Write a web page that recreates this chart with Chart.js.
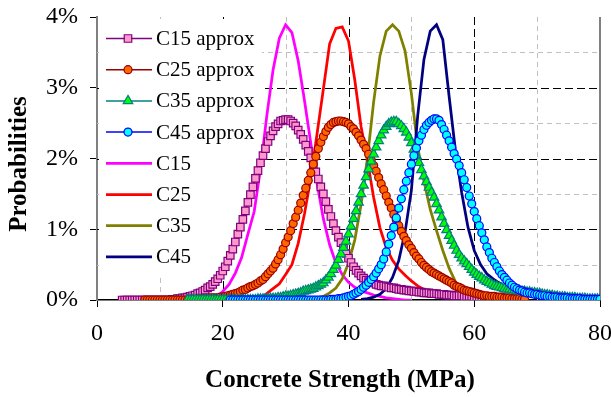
<!DOCTYPE html>
<html>
<head>
<meta charset="utf-8">
<title>Concrete strength probability distributions</title>
<script src="https://cdn.jsdelivr.net/npm/chart.js@4.4.1/dist/chart.umd.min.js"></script>
<style>
  html, body { margin: 0; padding: 0; background: #ffffff; }
  canvas { display: block; }
</style>
</head>
<body>
<canvas id="chart" width="611" height="397"></canvas>
<script>
// Strength grid (MPa) of the approximated distributions
const approxStrength = [
  4, 4.4, 4.8, 5.2, 5.6, 6, 6.4, 6.8, 7.2, 7.6,
  8, 8.4, 8.8, 9.2, 9.6, 10, 10.4, 10.8, 11.2, 11.6,
  12, 12.4, 12.8, 13.2, 13.6, 14, 14.4, 14.8, 15.2, 15.6,
  16, 16.4, 16.8, 17.2, 17.6, 18, 18.4, 18.8, 19.2, 19.6,
  20, 20.4, 20.8, 21.2, 21.6, 22, 22.4, 22.8, 23.2, 23.6,
  24, 24.4, 24.8, 25.2, 25.6, 26, 26.4, 26.8, 27.2, 27.6,
  28, 28.4, 28.8, 29.2, 29.6, 30, 30.4, 30.8, 31.2, 31.6,
  32, 32.4, 32.8, 33.2, 33.6, 34, 34.4, 34.8, 35.2, 35.6,
  36, 36.4, 36.8, 37.2, 37.6, 38, 38.4, 38.8, 39.2, 39.6,
  40, 40.4, 40.8, 41.2, 41.6, 42, 42.4, 42.8, 43.2, 43.6,
  44, 44.4, 44.8, 45.2, 45.6, 46, 46.4, 46.8, 47.2, 47.6,
  48, 48.4, 48.8, 49.2, 49.6, 50, 50.4, 50.8, 51.2, 51.6,
  52, 52.4, 52.8, 53.2, 53.6, 54, 54.4, 54.8, 55.2, 55.6,
  56, 56.4, 56.8, 57.2, 57.6, 58, 58.4, 58.8, 59.2, 59.6,
  60, 60.4, 60.8, 61.2, 61.6, 62, 62.4, 62.8, 63.2, 63.6,
  64, 64.4, 64.8, 65.2, 65.6, 66, 66.4, 66.8, 67.2, 67.6,
  68, 68.4, 68.8, 69.2, 69.6, 70, 70.4, 70.8, 71.2, 71.6,
  72, 72.4, 72.8, 73.2, 73.6, 74, 74.4, 74.8, 75.2, 75.6,
  76, 76.4, 76.8, 77.2, 77.6, 78, 78.4, 78.8, 79.2, 79.6,
  80];

// Approximated probabilities (%), each listed from its first strength on the grid
const c15ApproxFrom = 4;
const c15Approx = [
  0, 0, 0, 0, 0, 0, 0, 0, 0, 0,
  0, 0, 0, 0, 0, 0, 0, 0, 0, 0,
  0.01, 0.01, 0.02, 0.02, 0.03, 0.03, 0.04, 0.05, 0.06, 0.07,
  0.09, 0.10, 0.12, 0.14, 0.17, 0.19, 0.22, 0.26, 0.30, 0.35,
  0.41, 0.47, 0.55, 0.63, 0.72, 0.82, 0.93, 1.03, 1.14, 1.26,
  1.38, 1.49, 1.60, 1.72, 1.83, 1.94, 2.04, 2.14, 2.24, 2.32,
  2.39, 2.45, 2.49, 2.53, 2.54, 2.55, 2.55, 2.53, 2.50, 2.46,
  2.40, 2.34, 2.27, 2.19, 2.10, 2.01, 1.91, 1.81, 1.71, 1.60,
  1.50, 1.39, 1.28, 1.18, 1.08, 0.98, 0.89, 0.81, 0.73, 0.66,
  0.59, 0.53, 0.47, 0.42, 0.38, 0.34, 0.31, 0.28, 0.26, 0.25,
  0.24, 0.22, 0.21, 0.20, 0.20, 0.19, 0.18, 0.17, 0.17, 0.16,
  0.15, 0.15, 0.14, 0.14, 0.13, 0.13, 0.12, 0.12, 0.11, 0.11,
  0.10, 0.10, 0.10, 0.09, 0.09, 0.09, 0.08, 0.08, 0.08, 0.07,
  0.07, 0.07, 0.06, 0.06, 0.06, 0.06, 0.05, 0.05, 0.05, 0.05,
  0.04, 0.04, 0.04, 0.04, 0.03, 0.03];

const c25ApproxFrom = 7.6;
const c25Approx = [
  0, 0, 0, 0, 0, 0, 0, 0, 0, 0,
  0, 0, 0, 0, 0, 0, 0, 0,
  0.01, 0.01, 0.01, 0.01, 0.02, 0.02, 0.02, 0.02, 0.03, 0.03,
  0.03, 0.03, 0.04, 0.04, 0.05, 0.06, 0.07, 0.08, 0.09, 0.10,
  0.12, 0.14, 0.15, 0.17, 0.19, 0.20, 0.22, 0.24, 0.27, 0.29,
  0.33, 0.37, 0.41, 0.45, 0.51, 0.57, 0.64, 0.72, 0.81, 0.89,
  0.98, 1.08, 1.17, 1.27, 1.37, 1.48, 1.58, 1.69, 1.80, 1.92,
  2.03, 2.14, 2.23, 2.31, 2.38, 2.44, 2.48, 2.51, 2.52, 2.53,
  2.53, 2.52, 2.51, 2.49, 2.45, 2.42, 2.37, 2.32, 2.26, 2.20,
  2.14, 2.06, 1.98, 1.90, 1.82, 1.73, 1.64, 1.56, 1.47, 1.38,
  1.30, 1.21, 1.13, 1.05, 0.97, 0.90, 0.84, 0.78, 0.73, 0.67,
  0.62, 0.58, 0.53, 0.49, 0.46, 0.43, 0.40, 0.38, 0.36, 0.34,
  0.32, 0.30, 0.28, 0.26, 0.24, 0.21, 0.19, 0.18, 0.16, 0.14,
  0.13, 0.12, 0.11, 0.10, 0.09, 0.08, 0.07, 0.06, 0.06, 0.05,
  0.05, 0.05, 0.04, 0.04, 0.04, 0.03, 0.03, 0.03, 0.02, 0.02,
  0.02, 0.02, 0.01, 0.01];

const c35ApproxFrom = 14.4;
const c35Approx = [
  0, 0, 0, 0, 0, 0, 0, 0, 0, 0,
  0, 0, 0, 0, 0, 0, 0, 0, 0, 0,
  0, 0, 0, 0, 0, 0, 0, 0,
  0.01, 0.01, 0.01, 0.01, 0.02, 0.02, 0.02, 0.02, 0.03, 0.03,
  0.04, 0.05, 0.05, 0.06, 0.07, 0.08, 0.09, 0.10, 0.12, 0.13,
  0.14, 0.15, 0.16, 0.18, 0.20, 0.22, 0.24, 0.28, 0.32, 0.37,
  0.43, 0.49, 0.57, 0.65, 0.74, 0.83, 0.93, 1.04, 1.15, 1.26,
  1.38, 1.50, 1.62, 1.74, 1.85, 1.96, 2.06, 2.16, 2.25, 2.33,
  2.40, 2.45, 2.49, 2.51, 2.52, 2.52, 2.49, 2.46, 2.42, 2.37,
  2.30, 2.22, 2.13, 2.04, 1.94, 1.84, 1.75, 1.67, 1.59, 1.52,
  1.45, 1.36, 1.27, 1.17, 1.08, 0.99, 0.91, 0.84, 0.77, 0.70,
  0.64, 0.59, 0.55, 0.51, 0.47, 0.43, 0.39, 0.36, 0.33, 0.31,
  0.28, 0.26, 0.24, 0.22, 0.20, 0.19, 0.18, 0.17, 0.16, 0.15,
  0.15, 0.14, 0.14, 0.13, 0.13, 0.12, 0.12, 0.11, 0.11, 0.10,
  0.10, 0.09, 0.09, 0.08, 0.07, 0.07, 0.06, 0.06, 0.05, 0.05,
  0.04, 0.04, 0.04, 0.03, 0.03, 0.03, 0.03, 0.02, 0.02, 0.02,
  0.02, 0.01, 0.01, 0.01, 0.01, 0.01, 0.01];

const c45ApproxFrom = 21.2;
const c45Approx = [
  0, 0, 0, 0, 0, 0, 0, 0, 0, 0,
  0, 0, 0, 0, 0, 0, 0, 0, 0, 0,
  0, 0, 0, 0, 0, 0, 0, 0, 0, 0,
  0, 0, 0, 0, 0, 0, 0, 0, 0, 0,
  0.01, 0.01, 0.01, 0.02, 0.02, 0.03, 0.04, 0.05, 0.06, 0.08,
  0.10, 0.12, 0.15, 0.18, 0.21, 0.25, 0.29, 0.33, 0.38, 0.44,
  0.50, 0.58, 0.68, 0.79, 0.91, 1.03, 1.16, 1.30, 1.43, 1.56,
  1.68, 1.80, 1.92, 2.04, 2.15, 2.25, 2.33, 2.41, 2.47, 2.51,
  2.54, 2.56, 2.56, 2.54, 2.48, 2.41, 2.33, 2.25, 2.16, 2.07,
  1.99, 1.90, 1.80, 1.70, 1.59, 1.47, 1.36, 1.25, 1.15, 1.05,
  0.95, 0.85, 0.75, 0.67, 0.59, 0.53, 0.47, 0.41, 0.36, 0.32,
  0.28, 0.24, 0.21, 0.18, 0.16, 0.14, 0.13, 0.11, 0.10, 0.10,
  0.09, 0.08, 0.08, 0.07, 0.06, 0.06, 0.05, 0.05, 0.04, 0.04,
  0.04, 0.03, 0.03, 0.03, 0.03, 0.02, 0.02, 0.02, 0.02, 0.02,
  0.01, 0.01, 0.01, 0.01, 0.01, 0.01, 0.01, 0.01];

// Strength grid (MPa) of the simulated distributions
const lineStrength = [17, 18, 19, 20, 21, 22, 23, 24, 25, 26, 27, 28, 29, 30, 31, 32, 33, 34, 35, 36,
  37, 38, 39, 40, 41, 42, 43, 44, 45, 46, 47, 48, 49, 50, 51, 52, 53, 54, 55, 56,
  57, 58, 59, 60, 61, 62, 63, 64, 65, 66, 67, 68, 69, 70, 71, 72, 73, 74, 75, 76,
  77, 78, 79, 80, 81];

// Simulated probabilities (%), each listed from its first strength on that grid
const c15LineFrom = 17;
const c15Line = [0, 0.01, 0.04, 0.12, 0.22, 0.38, 0.60, 0.93, 1.25, 1.85,
  2.60, 3.25, 3.70, 3.89, 3.78, 3.38, 2.82, 2.22, 1.65, 1.15,
  0.78, 0.52, 0.36, 0.25, 0.18, 0.13, 0.10, 0.07, 0.05, 0.03,
  0.02, 0.01, 0, 0];

const c25LineFrom = 17;
const c25Line = [0, 0, 0, 0, 0, 0, 0, 0.01, 0.02, 0.04,
  0.09, 0.16, 0.23, 0.36, 0.50, 0.80, 1.22, 1.72, 2.35, 2.98,
  3.62, 3.84, 3.86, 3.66, 3.11, 2.45, 1.98, 1.45, 1.02, 0.74,
  0.56, 0.44, 0.35, 0.27, 0.20, 0.15, 0.11, 0.08, 0.06, 0.04,
  0.03, 0.02, 0.01, 0.01, 0];

const c35LineFrom = 33;
const c35Line = [0.01, 0.02, 0.03, 0.05, 0.10, 0.17, 0.30, 0.52, 0.85, 1.35,
  2.00, 2.80, 3.45, 3.80, 3.89, 3.80, 3.52, 2.92, 2.17, 1.68,
  1.28, 0.98, 0.70, 0.45, 0.26, 0.16, 0.10, 0.07, 0.05, 0.04,
  0.03, 0.02, 0.01, 0.01, 0];

const c45LineFrom = 42;
const c45Line = [0.01, 0.02, 0.04, 0.08, 0.16, 0.32, 0.56, 0.96, 1.55, 2.60,
  3.40, 3.80, 3.89, 3.68, 2.88, 2.12, 1.52, 1.03, 0.70, 0.50,
  0.37, 0.30, 0.24, 0.19, 0.16, 0.13, 0.10, 0.08, 0.06, 0.05,
  0.04, 0.03, 0.02, 0.02, 0.01, 0.01, 0.01, 0.01, 0.01, 0];

// Axis ticks and grid positions
const strengthTicks = [0, 20, 40, 60, 80];
const strengthMajorGrid = [20, 40, 60];
const strengthMinorGrid = [10, 30, 50, 70];
const probTicks = [0, 1, 2, 3, 4];
const probMajorGrid = [1, 2, 3];
const probMinorGrid = [0.5, 1.5, 2.5, 3.5];

const SERIF = "'Liberation Serif', 'Times New Roman', serif";

function points(grid, from, values) {
  const start = grid.indexOf(from);
  return values.map((v, i) => ({ x: grid[start + i], y: v }));
}

function approxSet(label, data, line, fill, style, radius, order) {
  return {
    label, data, order,
    borderColor: line, borderWidth: 1.5,
    pointStyle: style, pointRadius: radius, pointHoverRadius: radius,
    pointBackgroundColor: fill, pointBorderColor: line, pointBorderWidth: 1.2
  };
}

function lineSet(label, data, color, order) {
  return {
    label, data, order,
    borderColor: color, borderWidth: 2.75, pointRadius: 0, pointHoverRadius: 0
  };
}

const datasets = [
  approxSet('C15 approx', points(approxStrength, c15ApproxFrom, c15Approx), '#800080', '#FF99CC', 'rect', 5.3, 4),
  approxSet('C25 approx', points(approxStrength, c25ApproxFrom, c25Approx), '#990000', '#FF6600', 'circle', 4, 3),
  approxSet('C35 approx', points(approxStrength, c35ApproxFrom, c35Approx), '#008080', '#00FF00', 'triangle', 5.5, 2),
  approxSet('C45 approx', points(approxStrength, c45ApproxFrom, c45Approx), '#0000FF', '#00FFFF', 'circle', 4, 1),
  lineSet('C15', points(lineStrength, c15LineFrom, c15Line), '#FF00FF', 8),
  lineSet('C25', points(lineStrength, c25LineFrom, c25Line), '#FF0000', 7),
  lineSet('C35', points(lineStrength, c35LineFrom, c35Line), '#808000', 6),
  lineSet('C45', points(lineStrength, c45LineFrom, c45Line), '#000080', 5)
];

function marker(ctx, style, x, y, r, fill, stroke) {
  ctx.beginPath();
  if (style === 'rect') {
    const h = r * Math.SQRT1_2;
    ctx.rect(x - h, y - h, 2 * h, 2 * h);
  } else if (style === 'triangle') {
    for (let k = 0; k < 3; k++) {
      const a = k * 2 * Math.PI / 3;
      const px = x + Math.sin(a) * r, py = y - Math.cos(a) * r;
      if (k === 0) ctx.moveTo(px, py); else ctx.lineTo(px, py);
    }
    ctx.closePath();
  } else {
    ctx.arc(x, y, r, 0, Math.PI * 2);
  }
  ctx.fillStyle = fill; ctx.fill();
  ctx.strokeStyle = stroke; ctx.lineWidth = 1.2; ctx.stroke();
}

const decor = {
  id: 'decor',
  beforeDatasetsDraw(chart) {
    const { ctx, chartArea: a, scales: { x, y } } = chart;
    ctx.save();
    const vline = (v, color, dash) => {
      const px = Math.round(x.getPixelForValue(v)) + 0.5;
      ctx.strokeStyle = color; ctx.setLineDash(dash);
      ctx.beginPath(); ctx.moveTo(px, a.top); ctx.lineTo(px, a.bottom); ctx.stroke();
    };
    const hline = (v, color, dash) => {
      const py = Math.round(y.getPixelForValue(v)) + 0.5;
      ctx.strokeStyle = color; ctx.setLineDash(dash);
      ctx.beginPath(); ctx.moveTo(a.left, py); ctx.lineTo(a.right, py); ctx.stroke();
    };
    ctx.lineWidth = 1;
    strengthMinorGrid.forEach(v => vline(v, '#c0c0c0', [5, 4]));
    probMinorGrid.forEach(v => hline(v, '#c0c0c0', [5, 4]));
    strengthMajorGrid.forEach(v => vline(v, '#000000', [8, 4]));
    probMajorGrid.forEach(v => hline(v, '#000000', [8, 4]));

    // right frame edge
    ctx.setLineDash([]);
    ctx.strokeStyle = '#808080'; ctx.lineWidth = 2;
    const rx = x.getPixelForValue(80);
    ctx.beginPath(); ctx.moveTo(rx, a.top); ctx.lineTo(rx, a.bottom); ctx.stroke();

    // legend box inside the plot
    ctx.fillStyle = '#ffffff';
    ctx.fillRect(a.left + 2, a.top + 2, 163, 258);
    ctx.font = `21px ${SERIF}`;
    ctx.textAlign = 'left'; ctx.textBaseline = 'middle';
    chart.data.datasets.forEach((ds, i) => {
      const ly = 38.5 + i * 31.2;
      ctx.strokeStyle = ds.borderColor; ctx.lineWidth = ds.borderWidth;
      ctx.beginPath(); ctx.moveTo(106, ly); ctx.lineTo(152, ly); ctx.stroke();
      if (ds.pointRadius > 0) marker(ctx, ds.pointStyle, 128, ly, ds.pointRadius, ds.pointBackgroundColor, ds.pointBorderColor);
      ctx.fillStyle = '#000000';
      ctx.fillText(ds.label, 156, ly + 1);
    });
    ctx.restore();
  },
  afterDraw(chart) {
    const { ctx } = chart;
    ctx.save();
    ctx.fillStyle = '#000000';
    ctx.font = `bold 25px ${SERIF}`;
    ctx.textAlign = 'center'; ctx.textBaseline = 'middle';
    ctx.fillText('Concrete Strength (MPa)', 340, 381);
    ctx.translate(20, 164);
    ctx.rotate(-Math.PI / 2);
    ctx.fillText('Probabilities', 0, 0);
    ctx.restore();
  }
};

new Chart(document.getElementById('chart'), {
  type: 'line',
  data: { datasets },
  options: {
    responsive: false,
    animation: false,
    devicePixelRatio: 1,
    layout: { padding: { top: 17, right: 11, left: 0, bottom: 0 } },
    elements: { line: { tension: 0 } },
    plugins: { legend: { display: false }, tooltip: { enabled: false } },
    scales: {
      x: {
        type: 'linear', min: 0, max: 80,
        afterBuildTicks(s) { s.ticks = strengthTicks.map(v => ({ value: v })); },
        ticks: { color: '#000', font: { family: SERIF, size: 24 }, padding: 12, maxRotation: 0 },
        grid: { drawOnChartArea: false, drawTicks: true, tickLength: 7, tickColor: '#000', tickWidth: 1 },
        border: { color: '#000', width: 1.5 },
        afterFit(s) { s.height = 97; s.paddingLeft = 0; s.paddingRight = 0; }
      },
      y: {
        type: 'linear', min: 0, max: 4,
        afterBuildTicks(s) { s.ticks = probTicks.map(v => ({ value: v })); },
        ticks: { color: '#000', font: { family: SERIF, size: 24 }, padding: 12, callback: v => v + '%' },
        grid: { drawOnChartArea: false, drawTicks: true, tickLength: 7, tickColor: '#000', tickWidth: 1 },
        border: { color: '#808080', width: 2 },
        afterFit(s) { s.width = 97; s.paddingTop = 0; s.paddingBottom = 0; }
      }
    }
  },
  plugins: [decor]
});
</script>
</body>
</html>
